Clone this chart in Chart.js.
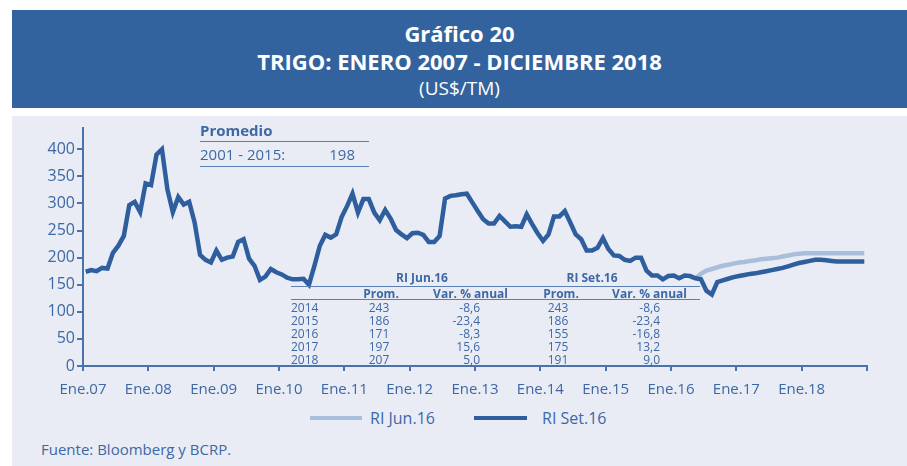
<!DOCTYPE html>
<html>
<head>
<meta charset="utf-8">
<script src="https://cdn.jsdelivr.net/npm/chart.js@4.4.0/dist/chart.umd.min.js"></script>
<style>
  html, body { margin: 0; padding: 0; background: #fff; }
  body { width: 907px; height: 466px; position: relative; overflow: hidden; font-family: "Open Sans", sans-serif; }
  #hdr { position: absolute; left: 12px; top: 10px; width: 895px; height: 98px; background: #33639e; color: #fff; text-align: center; }
  #hdr div { position: absolute; left: 0; width: 100%; line-height: 1; }
  #panel { position: absolute; left: 12px; top: 116px; width: 895px; height: 350px; background: #e9ecf4; }
  #wrap { position: absolute; left: 0; top: 116px; width: 907px; height: 290px; }
  .t { position: absolute; color: #3d68a6; white-space: nowrap; line-height: 1; }
  .rule { position: absolute; height: 0; border-top: 1.5px solid #5a7fb5; }
  .leg { position: absolute; height: 4px; }
</style>
</head>
<body>
<div id="hdr">
  <div style="top:8px;font:bold 22px 'Open Sans';">Gráfico 20</div>
  <div style="top:36px;font:bold 22px 'Open Sans';">TRIGO: ENERO 2007 - DICIEMBRE 2018</div>
  <div style="top:65px;font:19px 'Open Sans';">(US$/TM)</div>
</div>
<div id="panel"></div>
<div id="wrap"><canvas id="chart-trigo"></canvas></div>
<div id="notes"></div>
<script>
// =====================
// TRIGO - datos mensuales ene.07 - dic.18 (US$/TM)
// =====================

const xTickLabels = ['Ene.07', 'Ene.08', 'Ene.09', 'Ene.10', 'Ene.11', 'Ene.12',
  'Ene.13', 'Ene.14', 'Ene.15', 'Ene.16', 'Ene.17', 'Ene.18'];
const yTickValues = [0, 50, 100, 150, 200, 250, 300, 350, 400];

// RI Set.16: historia + proyección
const riSet16 = [
  174, 177, 175, 181, 180, 209, 222, 240, 297, 303, 284, 337,
  334, 390, 400, 326, 284, 312, 298, 303, 265, 205, 196, 191,
  213, 196, 200, 202, 229, 234, 198, 185, 159, 165, 179, 173,
  169, 163, 160, 160, 161, 150, 185, 222, 242, 237, 243, 275,
  295, 318, 283, 308, 308, 283, 269, 288, 272, 251, 243, 236,
  245, 246, 242, 229, 229, 240, 309, 314, 315, 317, 318, 302,
  286, 271, 263, 263, 277, 267, 257, 258, 257, 280, 262, 245,
  231, 243, 276, 276, 286, 265, 243, 234, 213, 213, 218, 236,
  216, 204, 203, 196, 194, 200, 200, 176, 167, 167, 160, 166,
  167, 162, 167, 166, 162, 160, 139, 132, 155, 158, 161, 164,
  166, 168, 170, 171, 173, 175, 177, 179, 181, 184, 187, 190,
  192, 194, 196, 196, 195, 194, 193, 193, 193, 193, 193, 193
];

// RI Jun.16: proyección desde may.16 (antes coincide con la historia)
const riJun16Start = 112;
const riJun16 = [
  162, 170, 176, 179, 182, 185, 187, 189,
  191, 192, 194, 195, 197, 198, 199, 200, 202, 204, 206, 207,
  208, 208, 208, 208, 208, 208, 208, 208, 208, 208, 208, 208
];

const promedioPeriodo = '2001 - 2015:';
const promedioValor = 198;

const tablaAnios = ['2014', '2015', '2016', '2017', '2018'];
const jun16Prom = ['243', '186', '171', '197', '207'];
const jun16Var = ['-8,6', '-23,4', '-8,3', '15,6', '5,0'];
const set16Prom = ['243', '186', '155', '175', '191'];
const set16Var = ['-8,6', '-23,4', '-16,8', '13,2', '9,0'];

const AXIS = '#4a72ac';
const TXT = '#3d68a6';

function toPoints(values, start) {
  return values.map((v, i) => ({ x: start + i + 0.5, y: v }));
}

function renderNotes() {
  const box = document.getElementById('notes');
  const parts = [];
  const txt = (x, y, s, style, align) => {
    const tr = align === 'right' ? 'translate(-100%,-50%)' : align === 'center' ? 'translate(-50%,-50%)' : 'translate(0,-50%)';
    parts.push(`<div class="t" style="left:${x}px;top:${y}px;transform:${tr};${style}">${s}</div>`);
  };
  const rule = (x, y, w) => parts.push(`<div class="rule" style="left:${x}px;top:${y}px;width:${w}px;"></div>`);

  // promedio
  txt(200, 130, 'Promedio', "font:bold 15px 'Open Sans';");
  rule(200, 141, 169);
  txt(200, 154, promedioPeriodo, "font:15px 'Open Sans';");
  txt(355, 154, promedioValor, "font:15px 'Open Sans';", 'right');
  rule(200, 166, 169);

  // tabla
  const f = "font:12px 'Open Sans';";
  const fb = "font:bold 12px 'Open Sans';";
  txt(422, 277, 'RI Jun.16', fb, 'center');
  txt(592, 277, 'RI Set.16', fb, 'center');
  rule(291, 286, 409);
  txt(381, 293, 'Prom.', fb, 'center');
  txt(508, 293, 'Var. % anual', fb, 'right');
  txt(561, 293, 'Prom.', fb, 'center');
  txt(687, 293, 'Var. % anual', fb, 'right');
  rule(291, 299, 409);
  tablaAnios.forEach((a, i) => {
    const y = 307 + i * 13;
    txt(291, y, a, f);
    txt(379, y, jun16Prom[i], f, 'center');
    txt(480, y, jun16Var[i], f, 'right');
    txt(558, y, set16Prom[i], f, 'center');
    txt(660, y, set16Var[i], f, 'right');
  });

  // leyenda
  parts.push(`<div class="leg" style="left:310px;top:416px;width:52px;background:#a9bedb;"></div>`);
  txt(370, 418, 'RI Jun.16', "font:16px 'Open Sans';");
  parts.push(`<div class="leg" style="left:474px;top:416px;width:53px;background:#2e5e9d;"></div>`);
  txt(542, 418, 'RI Set.16', "font:16px 'Open Sans';");

  // fuente
  txt(41, 449, 'Fuente: Bloomberg y BCRP.', "font:15px 'Open Sans';");

  box.innerHTML = parts.join('');
}

function renderChart() {
  const ctx = document.getElementById('chart-trigo');
  new Chart(ctx, {
    type: 'line',
    data: {
      datasets: [{
        label: 'RI Set.16',
        data: toPoints(riSet16, 0),
        borderColor: '#2e5e9d',
        borderWidth: 4.5,
        pointRadius: 0,
        tension: 0,
        order: 1
      }, {
        label: 'RI Jun.16',
        data: toPoints(riJun16, riJun16Start),
        borderColor: '#a9bedb',
        borderWidth: 4.5,
        pointRadius: 0,
        tension: 0,
        order: 2
      }]
    },
    options: {
      responsive: true,
      maintainAspectRatio: false,
      animation: false,
      layout: { padding: { left: 0, right: 40, top: 10, bottom: 0 } },
      plugins: { legend: { display: false }, tooltip: { enabled: false } },
      scales: {
        x: {
          type: 'linear',
          min: 0,
          max: 144,
          afterBuildTicks: s => { s.ticks = xTickLabels.map((l, i) => ({ value: i * 12 })).concat([{ value: 144 }]); },
          afterFit: s => { s.height = 40; },
          ticks: {
            color: TXT,
            font: { family: 'Open Sans', size: 15 },
            padding: 10,
            maxRotation: 0,
            callback: v => xTickLabels[v / 12] || ''
          },
          grid: { drawOnChartArea: false, drawTicks: true, tickLength: 5, color: AXIS, lineWidth: 2 },
          border: { color: AXIS, width: 2 }
        },
        y: {
          min: 0,
          max: 440,
          afterBuildTicks: s => { s.ticks = yTickValues.map(v => ({ value: v })); },
          afterFit: s => { s.width = 83; },
          ticks: {
            color: TXT,
            font: { family: 'Open Sans', size: 16 },
            padding: 2
          },
          grid: { drawOnChartArea: false, drawTicks: true, tickLength: 6, color: AXIS, lineWidth: 2 },
          border: { color: AXIS, width: 2 }
        }
      }
    }
  });
}

renderNotes();
renderChart();
</script>
</body>
</html>
